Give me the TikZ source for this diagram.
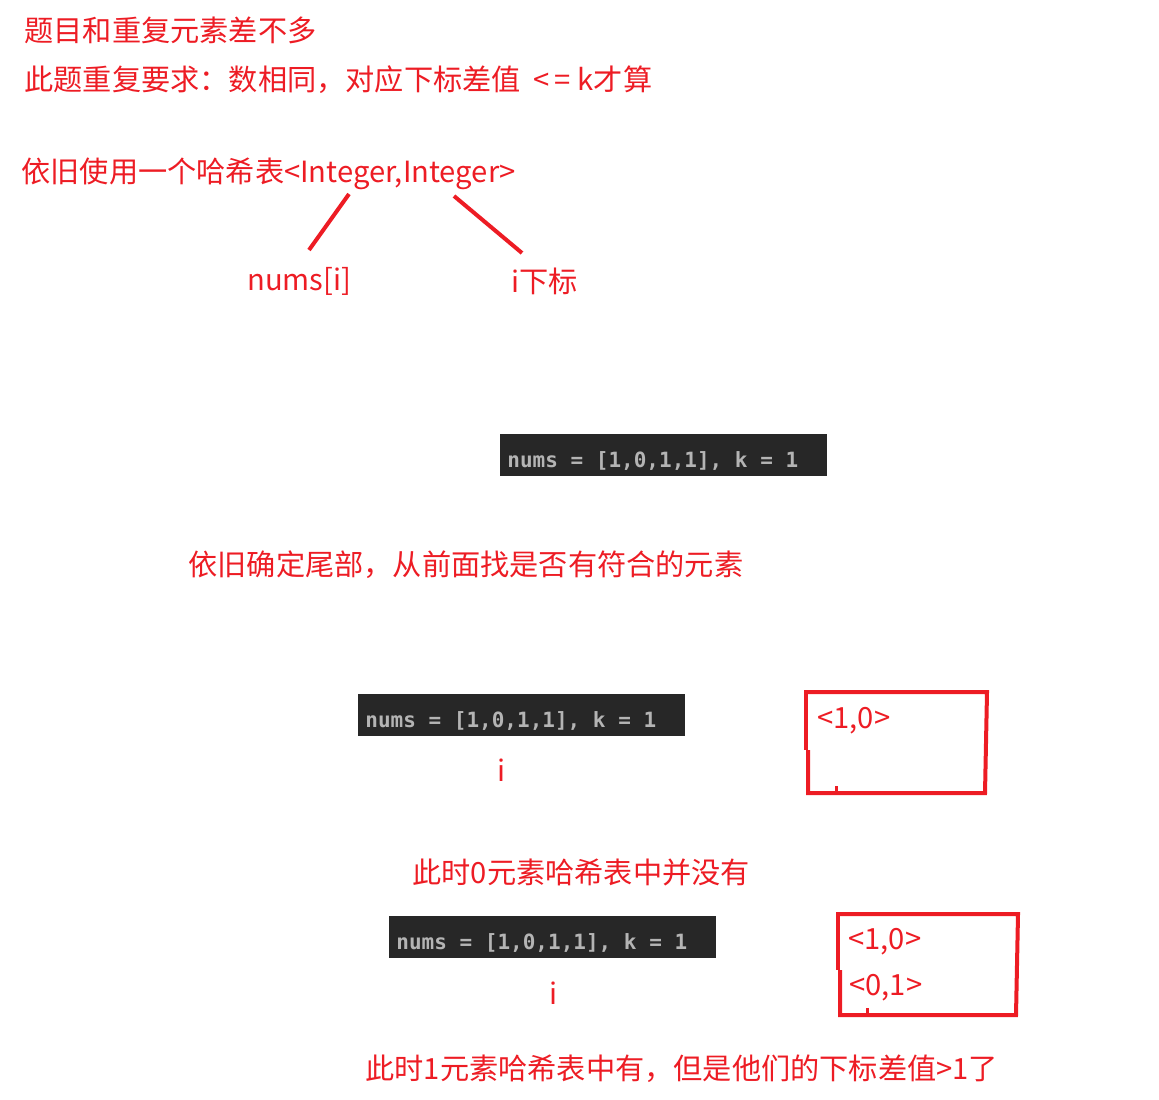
\documentclass[tikz,border=0pt]{standalone}
\usepackage{fontspec}
\usepackage{xcolor}
\usepackage{tikz}
\usetikzlibrary{positioning}
\newfontfamily\cjk{Noto Sans CJK SC}
\newfontfamily\codefont{DejaVu Sans Mono Bold}
\definecolor{notered}{RGB}{237,28,36}
\definecolor{codebg}{RGB}{39,39,39}
\definecolor{codefg}{RGB}{180,180,180}

\begin{document}
\begin{tikzpicture}[x=0.5pt,y=-0.5pt,
  note/.style={text=notered,font=\cjk\fontsize{14.6}{17}\selectfont,inner sep=0pt,anchor=west},
  codebox/.style={fill=codebg,minimum width=163.5pt,minimum height=21pt,inner sep=0pt,anchor=north west},
  codetext/.style={text=codefg,font=\codefont\fontsize{10.5}{12}\selectfont,inner sep=0pt,yshift=-3pt},
  hashline/.style={notered,line width=2pt},
  mapbox/.style={notered,line width=2pt}]
  \useasboundingbox (0,0) rectangle (1159,1099);
  % problem statement
  \node[note] (title) at (24,30) {题目和重复元素差不多};
  \node[note] (rule) at (24,80) {此题重复要求：数相同，对应下标差值\ \ <\,=\ k才算};
  % hash map key / value
  \node[note] (map) at (21,174) {依旧使用一个哈希表<Integer,Integer>};
  \node[note] (key) at (247,281) {nums[i]};
  \node[note] (val) at (511,281) {i下标};
  \coordinate (keytop) at (349,194);
  \coordinate (keybot) at (309,250);
  \coordinate (valtop) at (454,196);
  \coordinate (valbot) at (522,253);
  \draw[hashline] (keytop) -- (keybot);
  \draw[hashline] (valtop) -- (valbot);
  % example input
  \node[codebox] (code1) at (500,434) {};
  \node[codetext,right=3.5pt of code1.west] (arr1) {nums = [1,0,1,1], k = 1};
  \node[note] (idea) at (188,565) {依旧确定尾部，从前面找是否有符合的元素};
  % step 1
  \node[codebox] (code2) at (358,694) {};
  \node[codetext,right=3.5pt of code2.west] (arr2) {nums = [1,0,1,1], k = 1};
  \node[note] (i1) at (497,770) {i};
  \draw[mapbox] (804,692) -- (987,692) -- (985,793) -- (808,793) -- (808,750);
  \draw[mapbox] (806,692) -- (806,750);
  \draw[notered,line width=1.5pt] (836,786) -- (836,793);
  \node[note] (e10a) at (817,721) {<1,0>};
  \node[note] (step1) at (412,872) {此时0元素哈希表中并没有};
  % step 2
  \node[codebox] (code3) at (389,916) {};
  \node[codetext,right=3.5pt of code3.west] (arr3) {nums = [1,0,1,1], k = 1};
  \node[note] (i2) at (549,993) {i};
  \draw[mapbox] (836,914) -- (1018,914) -- (1016,1015) -- (840,1015) -- (840,970);
  \draw[mapbox] (838,914) -- (838,970);
  \draw[notered,line width=1.5pt] (867,1008) -- (867,1015);
  \node[note] (e10b) at (848,942) {<1,0>};
  \node[note] (e01) at (849,988) {<0,1>};
  \node[note] (step2) at (365,1069) {此时1元素哈希表中有，但是他们的下标差值>1了};
\end{tikzpicture}
\end{document}
